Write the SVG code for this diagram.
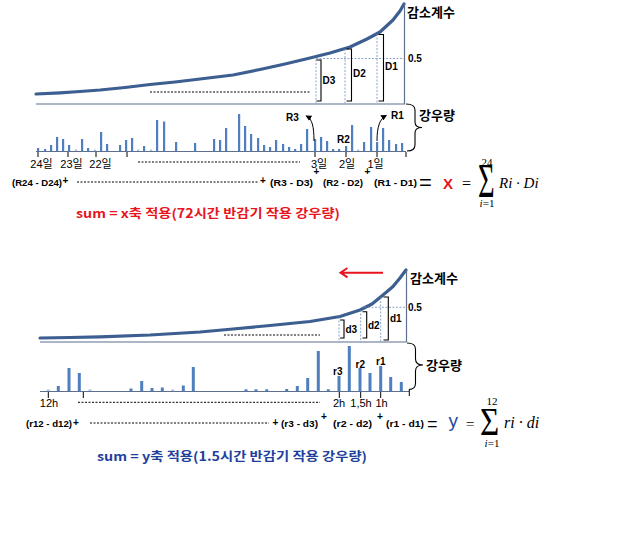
<svg xmlns="http://www.w3.org/2000/svg" width="617" height="540" viewBox="0 0 617 540">
<style>
.curve{fill:none;stroke:#3c5e90;stroke-width:3.2;stroke-linecap:round;stroke-linejoin:round}
.axis{fill:none;stroke:#5d6f8f;stroke-width:1.2}
.guide{fill:none;stroke:#6f8fc0;stroke-width:0.8;stroke-dasharray:2,1.5}
.dot{fill:none;stroke:#000;stroke-width:1;stroke-dasharray:2,1.5}
.brk{fill:none;stroke:#000;stroke-width:1.1}
.tk{fill:none;stroke:#000;stroke-width:1}
.bars rect{fill:#4f7fbf}
.bars rect.lt{fill:#a9bfe0}
.lbl{font-family:"Liberation Sans",Arial,sans-serif;font-weight:bold;font-size:10px;fill:#000}
.kor{font-family:"Noto Sans CJK KR",sans-serif;font-weight:bold;font-size:13px;fill:#000}
.tick{font-family:"Liberation Sans","Noto Sans CJK KR",sans-serif;font-size:11px;fill:#000;text-anchor:middle}
.eq{font-family:"Liberation Sans",Arial,sans-serif;font-weight:bold;font-size:8.5px;fill:#000}
.pl{font-family:"Liberation Sans",Arial,sans-serif;font-weight:bold;font-size:10px;fill:#000}
.math{font-family:"Liberation Serif","Times New Roman",serif;fill:#000}
</style>
<defs>
<marker id="ah" viewBox="0 0 10 10" refX="8" refY="5" markerWidth="6" markerHeight="6" orient="auto">
<path d="M0,0 L10,5 L0,10 z" fill="#000"/>
</marker>
</defs>

<g id="top-chart">
<path class="curve" d="M36,94 L60,92.8 L80,91.5 L100,90 L125,87.5 L150,84.5 L175,82 L200,79 L233,75 L260,69.5 L285,64 L310,58 L330,53 L350,47 L367,39 L380,32 L393,20 L400,11 L404,4"/>
<line class="axis" x1="36" y1="104" x2="405" y2="104"/>
<line class="axis" x1="404.5" y1="4" x2="404.5" y2="104"/>
<line class="dot" x1="150" y1="92" x2="310" y2="92"/>
<line class="guide" x1="316" y1="59.5" x2="316" y2="104"/>
<line class="guide" x1="345" y1="49" x2="345" y2="104"/>
<line class="guide" x1="377" y1="34" x2="377" y2="104"/>
<line class="guide" x1="316" y1="58.5" x2="404" y2="58.5"/>
<path class="brk" d="M316.5,60 H321 V101 H316.5"/>
<path class="brk" d="M346.5,49 H351.5 V101 H346.5"/>
<path class="brk" d="M378.5,34.5 H383.5 V101 H378.5"/>
<text class="lbl" x="322.5" y="84">D3</text>
<text class="lbl" x="353" y="77">D2</text>
<text class="lbl" x="385" y="70">D1</text>
<text class="lbl" x="408" y="62">0.5</text>
<text class="kor" x="407" y="17">감소계수</text>
<text class="kor" x="419" y="120">강우량</text>
<path class="brk" d="M406,104 Q415,104 415,110 L415,122 Q415,127.5 422,127.5 Q415,127.5 415,133 L415,145 Q415,151 407,151"/>
<g class="bars">
<rect x="37" y="148" width="2.2" height="3"/>
<rect x="44" y="149" width="2.2" height="2"/>
<rect x="50" y="145" width="2.2" height="6"/>
<rect x="56" y="137" width="2.2" height="14"/>
<rect x="62" y="139" width="2.2" height="12"/>
<rect x="68" y="145" width="2.2" height="6"/>
<rect x="75" y="149.5" width="2.2" height="1.5" class="lt"/>
<rect x="81" y="139" width="2.2" height="12"/>
<rect x="87" y="148" width="2.2" height="3"/>
<rect x="94" y="149.5" width="2.2" height="1.5" class="lt"/>
<rect x="100" y="132" width="2.2" height="19"/>
<rect x="106" y="144" width="2.2" height="7"/>
<rect x="119" y="145" width="2.2" height="6"/>
<rect x="125" y="140" width="2.2" height="11"/>
<rect x="131" y="138" width="2.2" height="13"/>
<rect x="137" y="149.5" width="2.2" height="1.5" class="lt"/>
<rect x="143" y="146" width="2.2" height="5"/>
<rect x="150" y="149.5" width="2.2" height="1.5" class="lt"/>
<rect x="156" y="120" width="2.2" height="31"/>
<rect x="163" y="121.5" width="2.2" height="29.5"/>
<rect x="175" y="142" width="2.2" height="9"/>
<rect x="194" y="143" width="2.2" height="8"/>
<rect x="213" y="139" width="2.2" height="12"/>
<rect x="219" y="140" width="2.2" height="11"/>
<rect x="225" y="128" width="2.2" height="23"/>
<rect x="238" y="114" width="2.2" height="37"/>
<rect x="244" y="126" width="2.2" height="25"/>
<rect x="250" y="134" width="2.2" height="17"/>
<rect x="257" y="138" width="2.2" height="13"/>
<rect x="263" y="145" width="2.2" height="6"/>
<rect x="269" y="147" width="2.2" height="4"/>
<rect x="275" y="140" width="2.2" height="11"/>
<rect x="282" y="144" width="2.2" height="7"/>
<rect x="288" y="147" width="2.2" height="4"/>
<rect x="294" y="149" width="2.2" height="2"/>
<rect x="300" y="144" width="2.2" height="7"/>
<rect x="306" y="129" width="2.2" height="22"/>
<rect x="314" y="139" width="2.2" height="12"/>
<rect x="320" y="137" width="2.2" height="14"/>
<rect x="326" y="141" width="2.2" height="10"/>
<rect x="332" y="149" width="2.2" height="2"/>
<rect x="338" y="149" width="2.2" height="2"/>
<rect x="345" y="146" width="2.2" height="5"/>
<rect x="351" y="125" width="2.2" height="26"/>
<rect x="357" y="149.5" width="2.2" height="1.5" class="lt"/>
<rect x="363" y="142" width="2.2" height="9"/>
<rect x="370" y="127" width="2.2" height="24"/>
<rect x="376" y="142" width="2.2" height="9"/>
<rect x="382" y="128" width="2.2" height="23"/>
<rect x="388" y="140" width="2.2" height="11"/>
<rect x="395" y="144" width="2.2" height="7"/>
<rect x="401" y="143" width="2.2" height="8"/>
</g>
<line class="axis" x1="36" y1="151.5" x2="406" y2="151.5"/>
<path class="tk" d="M38,152 V157 M68,152 V157 M96,152 V157 M127,152 V157 M315,152 V157 M346,152 V157 M377,152 V157 M406,152 V157"/>
<text class="tick" x="41.5" y="168">24일</text>
<text class="tick" x="71.5" y="168">23일</text>
<text class="tick" x="100.5" y="168">22일</text>
<text class="tick" x="319" y="168">3일</text>
<text class="tick" x="347" y="168">2일</text>
<text class="tick" x="375.5" y="168">1일</text>
<line class="dot" x1="138" y1="162" x2="300" y2="162"/>
<text class="lbl" x="286" y="121" font-size="9">R3</text>
<text class="lbl" x="337" y="143" font-size="9">R2</text>
<text class="lbl" x="391" y="119" font-size="9">R1</text>
</g>

<g id="connectors">
<path class="tk" d="M314,141 C314,126 312,119 306.5,116" marker-end="url(#ah)"/>
<path class="tk" d="M377,141 C377,126 380,119 386,115.5" marker-end="url(#ah)"/>
<path d="M383,272.7 H341 M347.5,268 L340.5,272.7 L347.5,277.4" fill="none" stroke="#e8141e" stroke-width="2"/>
</g>

<g id="top-equation">
<text class="eq" x="12" y="186" textLength="50" lengthAdjust="spacingAndGlyphs">(R24 - D24)</text>
<text class="pl" x="62.5" y="184">+</text>
<line class="dot" x1="77" y1="182" x2="258" y2="182"/>
<text class="pl" x="260" y="184">+</text>
<text class="eq" x="270" y="186" textLength="43" lengthAdjust="spacingAndGlyphs">(R3 - D3)</text>
<text class="pl" x="313.5" y="175">+</text>
<text class="eq" x="323" y="186" textLength="40" lengthAdjust="spacingAndGlyphs">(R2 - D2)</text>
<text class="pl" x="364.5" y="175">+</text>
<text class="eq" x="374" y="186" textLength="43" lengthAdjust="spacingAndGlyphs">(R1 - D1)</text>
<text x="419" y="189.5" font-family="Liberation Sans,Arial,sans-serif" font-size="22">=</text>
<text x="443" y="189" font-family="Liberation Sans,Arial,sans-serif" font-weight="bold" font-size="15" fill="#e8141e">X</text>
<text class="math" x="462" y="188.5" font-size="16">=</text>
<text class="math" font-size="22" transform="translate(478,196.5) scale(1.3,2.2)">Σ</text>
<text class="math" x="487" y="166" font-size="11" text-anchor="middle">24</text>
<text class="math" x="487" y="207" font-size="11" text-anchor="middle"><tspan font-style="italic">i</tspan>=1</text>
<text class="math" x="499" y="188" font-size="15" font-style="italic">Ri · Di</text>
<text x="76" y="218" font-family="Noto Sans CJK KR,sans-serif" font-weight="bold" font-size="12.5" fill="#e8141e" textLength="264" lengthAdjust="spacingAndGlyphs">sum = x축 적용(72시간 반감기 작용 강우량)</text>
</g>

<g id="bottom-chart">
<path class="curve" d="M40,338 L70,337.5 L100,336.8 L150,335 L200,332 L233,329 L270,325.5 L310,321.5 L340,316.5 L360,310 L372,304 L383,295 L393,286.5 L400,278 L406,270"/>
<line class="axis" x1="40" y1="342" x2="406.5" y2="342"/>
<line class="axis" x1="406.5" y1="270" x2="406.5" y2="342"/>
<line class="dot" x1="224" y1="335" x2="320" y2="335"/>
<line class="guide" x1="339" y1="317" x2="339" y2="342"/>
<line class="guide" x1="360.7" y1="310" x2="360.7" y2="342"/>
<line class="guide" x1="380.7" y1="297.5" x2="380.7" y2="342"/>
<line class="guide" x1="361" y1="307.3" x2="406" y2="307.3"/>
<path class="brk" d="M340,320 H344 V338 H340"/>
<path class="brk" d="M362.5,311.7 H366.7 V338 H362.5"/>
<path class="brk" d="M383.5,297 H388.3 V340 H383.5"/>
<text class="lbl" x="345.5" y="333">d3</text>
<text class="lbl" x="368" y="329">d2</text>
<text class="lbl" x="390" y="322">d1</text>
<text class="lbl" x="408" y="311">0.5</text>
<text class="kor" x="410" y="283">감소계수</text>
<text class="kor" x="426" y="370">강우량</text>
<path class="brk" d="M407,343 Q415.5,343 415.5,349 L415.5,359 Q415.5,365 423,365 Q415.5,365 415.5,371 L415.5,383 Q415.5,389.5 409,389.5"/>
<g class="bars">
<rect x="46.8" y="389.5" width="3" height="1.5" class="lt"/>
<rect x="56.8" y="386" width="3" height="5"/>
<rect x="67.5" y="368" width="3" height="23"/>
<rect x="77.8" y="373" width="3" height="18"/>
<rect x="88.5" y="389.5" width="3" height="1.5" class="lt"/>
<rect x="129.5" y="388.5" width="3" height="2.5"/>
<rect x="140.2" y="381" width="3" height="10"/>
<rect x="150.5" y="388" width="3" height="3"/>
<rect x="160.8" y="387.5" width="3" height="3.5"/>
<rect x="171.2" y="389.5" width="3" height="1.5" class="lt"/>
<rect x="181.8" y="385.5" width="3" height="5.5"/>
<rect x="191.8" y="367" width="3" height="24"/>
<rect x="244.5" y="389.3" width="3" height="1.7"/>
<rect x="254.5" y="389.3" width="3" height="1.7"/>
<rect x="265.2" y="389.3" width="3" height="1.7"/>
<rect x="285.2" y="389" width="3" height="2"/>
<rect x="295.8" y="386" width="3" height="5"/>
<rect x="306.2" y="378" width="3" height="13"/>
<rect x="316.8" y="351" width="3" height="40"/>
<rect x="326.8" y="389.3" width="3" height="1.7"/>
<rect x="337.5" y="376" width="3" height="15"/>
<rect x="347.8" y="346" width="3" height="45"/>
<rect x="358.5" y="368" width="3" height="23"/>
<rect x="368.5" y="373" width="3" height="18"/>
<rect x="379.2" y="366" width="3" height="25"/>
<rect x="389.2" y="377" width="3" height="14"/>
<rect x="399.8" y="382" width="3" height="9"/>
</g>
<line class="axis" x1="40" y1="391.5" x2="409" y2="391.5"/>
<path class="tk" d="M48.3,392 V398 M83.3,392 V398 M339.3,392 V398 M360.7,392 V398 M380.7,392 V398 M409.3,389 V396"/>
<text class="tick" x="49" y="406.5">12h</text>
<text class="tick" x="339" y="406.5">2h</text>
<text class="tick" x="361" y="406.5">1,5h</text>
<text class="tick" x="381.5" y="406.5">1h</text>
<line class="dot" x1="78" y1="402.3" x2="320" y2="402.3"/>
<text class="lbl" x="333" y="375">r3</text>
<text class="lbl" x="355.5" y="368">r2</text>
<text class="lbl" x="376" y="365">r1</text>
</g>

<g id="bottom-equation">
<text class="eq" x="26" y="427" textLength="46" lengthAdjust="spacingAndGlyphs">(r12 - d12)</text>
<text class="pl" x="73" y="425.5">+</text>
<line class="dot" x1="90" y1="423" x2="269" y2="423"/>
<text class="pl" x="272.5" y="425.5">+</text>
<text class="eq" x="281" y="427" textLength="37" lengthAdjust="spacingAndGlyphs">(r3 - d3)</text>
<text class="pl" x="321" y="419.5">+</text>
<text class="eq" x="333" y="427" textLength="39" lengthAdjust="spacingAndGlyphs">(r2 - d2)</text>
<text class="pl" x="377" y="419.5">+</text>
<text class="eq" x="386" y="427" textLength="38" lengthAdjust="spacingAndGlyphs">(r1 - d1)</text>
<text x="427" y="429.5" font-family="Liberation Sans,Arial,sans-serif" font-size="18">=</text>
<text x="448.5" y="427" font-family="Liberation Sans,Arial,sans-serif" font-size="19" fill="#1f4aa0">y</text>
<text class="math" x="466" y="428.5" font-size="15">=</text>
<text class="math" font-size="22" transform="translate(480,435) scale(1.5,1.85)">Σ</text>
<text class="math" x="492" y="405" font-size="11" text-anchor="middle">12</text>
<text class="math" x="492" y="447" font-size="11" text-anchor="middle"><tspan font-style="italic">i</tspan>=1</text>
<text class="math" x="504" y="428" font-size="16" font-style="italic">ri · di</text>
<text x="97" y="461" font-family="Noto Sans CJK KR,sans-serif" font-weight="bold" font-size="12.5" fill="#1f3f9c" textLength="270" lengthAdjust="spacingAndGlyphs">sum = y축 적용(1.5시간 반감기 작용 강우량)</text>
</g>
</svg>
